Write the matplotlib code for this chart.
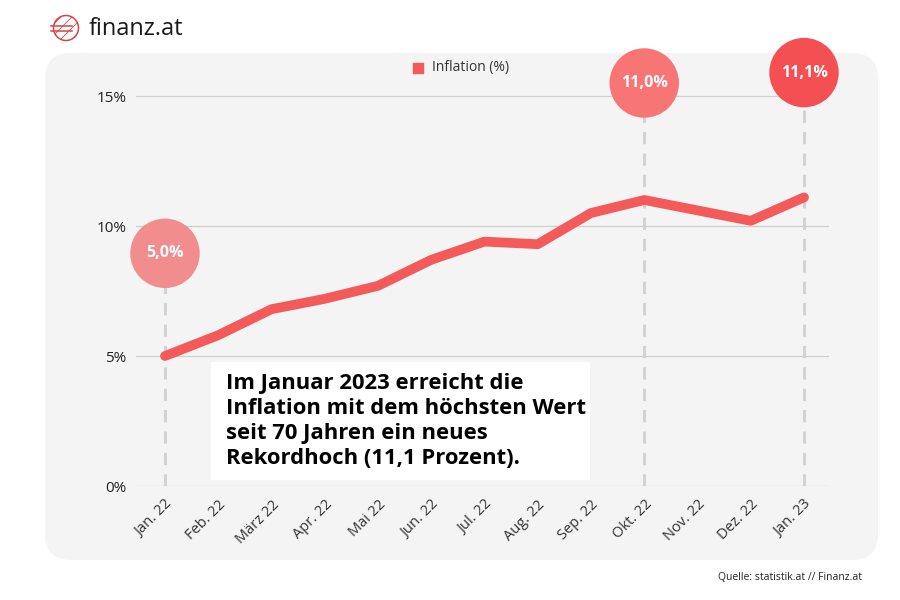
import matplotlib.pyplot as plt
import matplotlib.patches as patches

# Data
months = ['Jan. 22', 'Feb. 22', 'März 22', 'Apr. 22', 'Mai 22', 'Jun. 22', 'Jul. 22',
          'Aug. 22', 'Sep. 22', 'Okt. 22', 'Nov. 22', 'Dez. 22', 'Jan. 23']
inflation = [5.0, 5.8, 6.8, 7.2, 7.7, 8.7, 9.4, 9.3, 10.5, 11.0, 10.6, 10.2, 11.1]
yticks = [0, 5, 10, 15]
highlight_idx = [0, 9, 12]
highlight_labels = ['5,0%', '11,0%', '11,1%']

# Styling / layout for the highlight bubbles (data-unit lift above the value)
bubble_lift = [3.95, 4.5, 4.8]
bubble_colors = ['#f28d8d', '#f87575', '#f44f52']
line_color = '#f55a5a'
font = 'Open Sans'

W, H = 900, 600
fig = plt.figure(figsize=(9, 6), dpi=100)
fig.patch.set_facecolor('white')

# Background layer in pixel coordinates
bg = fig.add_axes([0, 0, 1, 1], zorder=0)
bg.set_xlim(0, W)
bg.set_ylim(H, 0)
bg.axis('off')
panel = patches.FancyBboxPatch((45, 53), 833, 507,
                               boxstyle='round,pad=0,rounding_size=26',
                               facecolor='#f4f4f4', edgecolor='none')
bg.add_patch(panel)

# Logo
plt.rcParams['hatch.color'] = '#e6c9c9'
plt.rcParams['hatch.linewidth'] = 0.6
logo = patches.Circle((66, 28), 12.5, facecolor='white', edgecolor='#d64545', lw=1.1,
                      hatch='///')
bg.add_patch(logo)
bg.plot([51, 72], [26, 26], color='#d64545', lw=1.1)
bg.plot([51, 72], [31, 31], color='#d64545', lw=1.1)
bg.text(89, 29, 'finanz.at', fontsize=17, family=font, color='#1a1a1a',
        ha='left', va='center')

# Source
bg.text(862, 578, 'Quelle: statistik.at // Finanz.at', fontsize=7.5, family=font,
        color='#222222', ha='right', va='center')

# Legend
bg.scatter([418], [68], marker='s', s=50, color=line_color)
bg.text(432, 68, 'Inflation (%)', fontsize=10, family=font, color='#333333',
        ha='left', va='center')

# Main chart axes
x0_px, x1_px = 136, 829
y0_px = 486
px_per_unit_y = 26.0
step_px = 53.25
first_px = 165
ylim_top = 16.0

ax = fig.add_axes([x0_px / W, 1 - y0_px / H, (x1_px - x0_px) / W,
                   ylim_top * px_per_unit_y / H], zorder=1)
ax.patch.set_alpha(0)
ax.set_xlim((x0_px - first_px) / step_px, (x1_px - first_px) / step_px)
ax.set_ylim(0, ylim_top)

xs = list(range(len(months)))

for yt in yticks:
    ax.axhline(yt, color='#cfcfcf', lw=0.9, zorder=1)

ax.set_yticks(yticks)
ax.set_yticklabels([f'{v}%' for v in yticks], family=font, fontsize=11, color='#222222')
ax.set_xticks(xs)
ax.set_xticklabels(months, rotation=45, ha='right', rotation_mode='anchor',
                   family=font, fontsize=10.5, color='#333333')
ax.tick_params(axis='both', length=0)
ax.tick_params(axis='y', pad=7)
ax.tick_params(axis='x', pad=8)
for s in ax.spines.values():
    s.set_visible(False)

# Dashed guide lines and bubbles
for i, lab, lift, col in zip(highlight_idx, highlight_labels, bubble_lift, bubble_colors):
    by = inflation[i] + lift
    ax.plot([xs[i], xs[i]], [0, by], color='#d2d2d2', lw=2.2, ls=(0, (4, 3)), zorder=2)
    ax.scatter([xs[i]], [by], s=2500, color=col, zorder=5, clip_on=False, edgecolors='none')
    ax.text(xs[i], by, lab, color='white', fontsize=11.5, fontweight='bold', family=font,
            ha='center', va='center', zorder=6, clip_on=False)

# Inflation line
ax.plot(xs, inflation, color=line_color, lw=7, solid_joinstyle='round',
        solid_capstyle='round', zorder=4)

# Annotation box on top
top = fig.add_axes([0, 0, 1, 1], zorder=3)
top.set_xlim(0, W)
top.set_ylim(H, 0)
top.axis('off')
top.patch.set_alpha(0)
top.add_patch(patches.Rectangle((211, 362), 379, 118, facecolor='white', edgecolor='none'))
top.text(226, 421, 'Im Januar 2023 erreicht die\nInflation mit dem höchsten Wert\n'
         'seit 70 Jahren ein neues\nRekordhoch (11,1 Prozent).',
         family=font, fontweight='bold', fontsize=15.8, color='black',
         ha='left', va='center', linespacing=1.27)

fig.savefig('out.png', dpi=100)
